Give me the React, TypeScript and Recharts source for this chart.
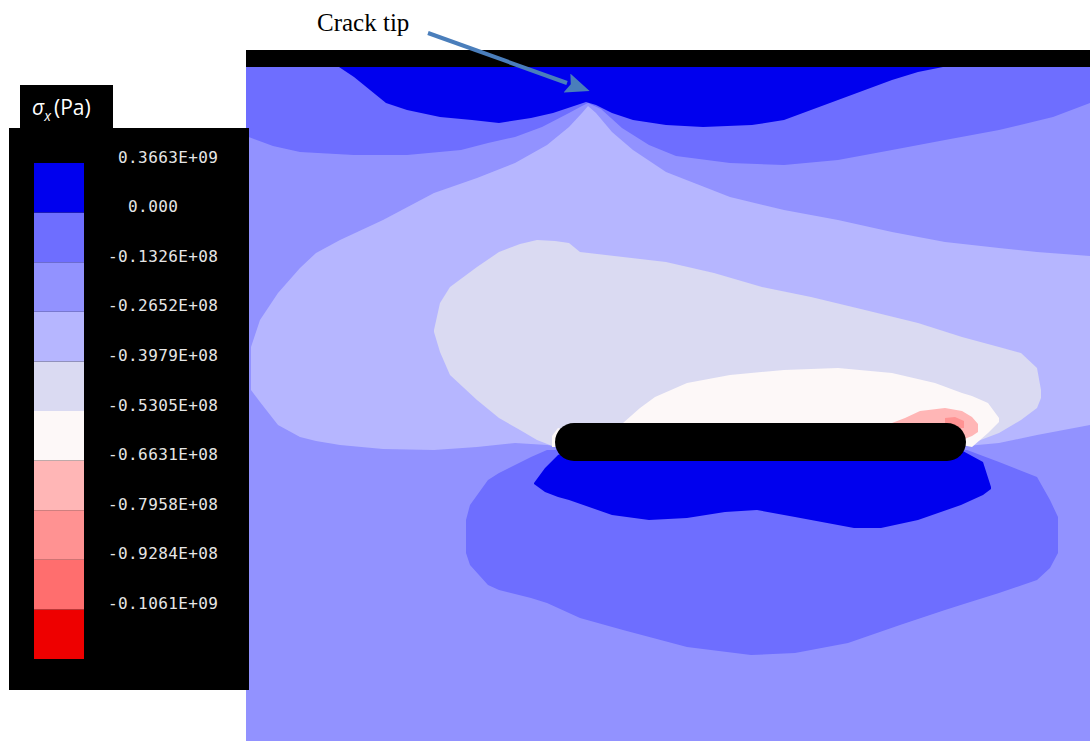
import { ComposedChart, Area, Line, XAxis, YAxis, ReferenceArea, BarChart, Bar, LabelList } from 'recharts';

const W = 1090;
const H = 741;

// legend bands, top (tension) to bottom (compression)
const bandColors = ['#0000ee', '#6e6eff', '#9292ff', '#b6b6ff', '#dadaf2', '#fdf8f8', '#ffb6b6', '#ff9292', '#ff6e6e', '#ee0000'];
const bandLabels = [' 0.3663E+09', '  0.000', '-0.1326E+08', '-0.2652E+08', '-0.3979E+08', '-0.5305E+08', '-0.6631E+08', '-0.7958E+08', '-0.9284E+08', '-0.1061E+09'];

// contour bands in picture coordinates: [x, upper edge y, lower edge y]
const fieldBand: number[][] = [[246, 67, 741], [1090, 67, 741]];

const topLobe: number[][] = [
  [246, 67, 136], [273, 67, 146], [300, 67, 152], [354, 67, 155], [407, 67, 155], [461, 67, 150],
  [488, 67, 143], [515, 67, 137], [542, 67, 127], [569, 67, 113], [582, 67, 106], [588, 67, 103],
  [601, 67, 109], [622, 67, 128], [649, 67, 145], [676, 67, 156], [730, 67, 163], [784, 67, 165],
  [838, 67, 160], [892, 67, 150], [945, 67, 140], [999, 67, 130], [1053, 67, 117], [1090, 67, 103],
];

const tensionTop: number[][] = [
  [339, 67, 67], [354, 67, 77], [370, 67, 90], [386, 67, 103], [407, 67, 110], [440, 67, 117],
  [472, 67, 120], [499, 67, 123], [531, 67, 118], [553, 67, 113], [574, 67, 106], [586, 67, 102],
  [596, 67, 105], [612, 67, 113], [633, 67, 120], [666, 67, 125], [703, 67, 127], [752, 67, 125],
  [784, 67, 120], [811, 67, 110], [838, 67, 100], [865, 67, 90], [892, 67, 80], [918, 67, 72], [943, 67, 67],
];

const coneBand: number[][] = [
  [251, 347, 390], [260, 320, 402], [278, 293, 425], [300, 268, 437], [316, 253, 441], [340, 240, 445],
  [383, 220, 449], [434, 193, 450], [477, 178, 447], [515, 163, 443], [547, 145, 445], [569, 127, 448],
  [582, 113, 448], [588, 106, 448], [596, 113, 448], [612, 132, 448], [633, 150, 448], [666, 172, 448],
  [730, 197, 448], [784, 210, 448], [838, 220, 448], [892, 232, 448], [945, 242, 448], [999, 248, 443],
  [1037, 252, 435], [1090, 256, 425],
];

const paleBand: number[][] = [
  [434, 330, 332], [440, 303, 352], [450, 287, 375], [477, 267, 400], [499, 252, 418], [520, 244, 430],
  [537, 240, 440], [555, 241, 447], [569, 243, 447], [580, 252, 447], [623, 257, 447], [666, 262, 447],
  [714, 273, 447], [762, 287, 447], [811, 297, 447], [865, 310, 447], [918, 323, 447], [962, 337, 447],
  [999, 347, 433], [1021, 353, 420], [1037, 368, 408], [1041, 390, 398],
];

const whiteBand: number[][] = [
  [552, 436, 447], [558, 428, 447], [566, 430, 440],
  [623, 423, 430], [640, 408, 440], [655, 397, 440], [687, 383, 440], [730, 375, 440], [784, 370, 440],
  [838, 368, 440], [892, 373, 440], [935, 383, 440], [962, 393, 445], [972, 396, 447], [988, 403, 433],
  [999, 418, 422],
];

const pinkBand: number[][] = [
  [892, 423, 430], [905, 418, 430], [920, 411, 430], [945, 408, 430], [962, 411, 440], [972, 417, 436],
  [978, 424, 432],
];

const rosyBand: number[][] = [[945, 418, 425], [955, 417, 428], [964, 421, 428]];

const lowerLobe: number[][] = [
  [466, 520, 553], [470, 505, 565], [488, 480, 585], [499, 473, 590], [531, 457, 598], [547, 450, 603],
  [580, 450, 618], [623, 450, 630], [687, 450, 647], [751, 450, 655], [795, 450, 653], [848, 450, 643],
  [900, 450, 625], [945, 450, 610], [967, 450, 603], [999, 462, 593], [1037, 477, 580], [1050, 500, 568],
  [1058, 517, 553],
];

const tensionBottom: number[][] = [
  [534, 483, 484], [545, 468, 492], [558, 455, 497], [569, 450, 500], [612, 450, 515], [649, 450, 520],
  [687, 450, 518], [725, 450, 512], [757, 450, 510], [795, 450, 517], [854, 450, 528], [881, 450, 528],
  [918, 450, 520], [961, 450, 505], [983, 462, 495], [991, 487, 489],
];

// crack centre line (rounded ends come from the stroke caps)
const crack = [{ x: 574, y: 442 }, { x: 947, y: 442 }];
const arrow = [{ x: 428, y: 33 }, { x: 567, y: 83 }];

const toRange = (rows: number[][]) => rows.map(([x, lo, hi]) => ({ x, band: [lo, hi] }));

const layers = [
  { rows: fieldBand, color: bandColors[2] },
  { rows: topLobe, color: bandColors[1] },
  { rows: tensionTop, color: bandColors[0] },
  { rows: coneBand, color: bandColors[3] },
  { rows: paleBand, color: bandColors[4] },
  { rows: whiteBand, color: bandColors[5] },
  { rows: pinkBand, color: bandColors[6] },
  { rows: rosyBand, color: bandColors[7] },
  { rows: lowerLobe, color: bandColors[1] },
  { rows: tensionBottom, color: bandColors[0] },
];

const legendRow: Record<string, number | string> = { name: 'sx' };
bandColors.forEach((_, i) => { legendRow[`s${i}`] = 1; });

function LegendBar() {
  const order = bandColors.map((_, i) => i).reverse();
  return (
    <BarChart width={240} height={562} data={[legendRow]} margin={{ top: 35, right: 165, bottom: 31, left: 25 }} barCategoryGap={0} barGap={0}>
      <XAxis dataKey="name" hide />
      <YAxis type="number" domain={[0, 10]} hide />
      {order.map((i) => (
        <Bar key={i} dataKey={`s${i}`} stackId="c" fill={bandColors[i]} isAnimationActive={false}>
          <LabelList
            dataKey={`s${i}`}
            content={(p: any) => {
              const vb = p.viewBox || p;
              const y = Number(vb.y ?? p.y);
              return (
                <text
                  x={99}
                  y={y - 6}
                  dominantBaseline="central"
                  fill="#e6e6e6"
                  fontSize={16}
                  letterSpacing={0.4}
                  style={{ fontFamily: '"DejaVu Sans Mono", monospace', whiteSpace: 'pre' }}
                >
                  {bandLabels[i]}
                </text>
              );
            }}
          />
        </Bar>
      ))}
    </BarChart>
  );
}

export default function App() {
  return (
    <div style={{ position: 'absolute', left: 0, top: 0, width: W, height: H, background: '#fff' }}>
      <ComposedChart width={W} height={H} margin={{ top: 0, right: 0, bottom: 0, left: 0 }}>
        <defs>
          <marker id="arrowHead" markerWidth={6} markerHeight={5} refX={0} refY={2.5} orient="auto" markerUnits="strokeWidth">
            <path d="M0,0 L6,2.5 L0,5 L1,2.5 z" fill="#4a7ebb" />
          </marker>
        </defs>
        <XAxis type="number" dataKey="x" domain={[0, W]} hide allowDataOverflow />
        <YAxis type="number" domain={[0, H]} reversed hide allowDataOverflow />
        {layers.map((l, i) => (
          <Area
            key={i}
            data={toRange(l.rows)}
            dataKey="band"
            type="linear"
            fill={l.color}
            fillOpacity={1}
            stroke="none"
            dot={false}
            activeDot={false}
            isAnimationActive={false}
          />
        ))}
        <ReferenceArea x1={246} x2={1090} y1={50} y2={67} fill="#000" fillOpacity={1} stroke="none" />
        <Line data={crack} dataKey="y" stroke="#000" strokeWidth={38} strokeLinecap="round" dot={false} activeDot={false} isAnimationActive={false} />
        <Line data={arrow} dataKey="y" stroke="#4a7ebb" strokeWidth={4} dot={false} activeDot={false} markerEnd="url(#arrowHead)" isAnimationActive={false} />
        <text x={317} y={31} fontSize={25} fill="#000" style={{ fontFamily: '"Liberation Serif", serif' }}>Crack tip</text>
        <text x={638} y={96} fontSize={30} fill="#fff" style={{ fontFamily: '"Liberation Serif", serif' }}>tension</text>
      </ComposedChart>

      <div style={{ position: 'absolute', left: 20, top: 85, width: 93, height: 44, background: '#000' }}>
        <svg width={93} height={44}>
          <text x={12} y={30} fill="#fff" fontSize={21} style={{ fontFamily: '"Open Sans", sans-serif' }}>
            <tspan fontStyle="italic">σ</tspan>
            <tspan fontStyle="italic" fontSize={14} dy={6}>x</tspan>
            <tspan dx={3} dy={-6}>(Pa)</tspan>
          </text>
        </svg>
      </div>
      <div style={{ position: 'absolute', left: 9, top: 128, width: 240, height: 562, background: '#000' }}>
        <LegendBar />
      </div>
    </div>
  );
}
